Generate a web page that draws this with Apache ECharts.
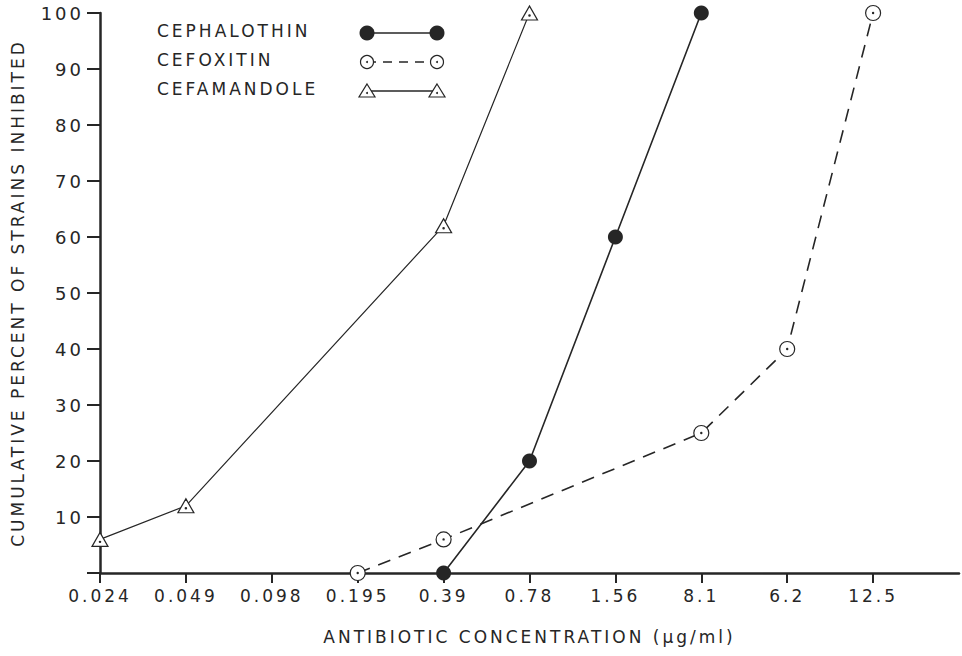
<!DOCTYPE html>
<html>
<head>
<meta charset="utf-8">
<script src="https://cdn.jsdelivr.net/npm/echarts@6/dist/echarts.min.js"></script>
<style>
  html, body { margin: 0; padding: 0; background: #fff; }
  #chart { width: 962px; height: 656px; overflow: hidden; }
  /* the printed lettering is widely spaced */
  #chart text { letter-spacing: 3px; }
</style>
</head>
<body>
<div id="chart"></div>
<script>
// concentration steps as printed on the x axis (last slot is the empty tail of the axis)
const concentrations = ['0.024', '0.049', '0.098', '0.195', '0.39', '0.78', '1.56', '8.1', '6.2', '12.5', ''];

// cumulative percent of strains inhibited, null where no point is drawn
const cephalothin = [null, null, null, null, 0, 20, 60, 100, null, null, null];
const cefoxitin   = [null, null, null, 0, 6, null, null, 25, 40, 100, null];
const cefamandole = [6, 12, null, null, 62, 100, null, null, null, null, null];

const yTicks = [0, 10, 20, 30, 40, 50, 60, 70, 80, 90, 100];

const ink = '#262626';
const font = 'DejaVu Sans';

// open circle with a dot, open triangle with a dot
const dotCircle = 'path://M0,10A10,10 0 1,1 20,10A10,10 0 1,1 0,10Z M9.2,10A0.8,0.8 0 1,1 10.8,10A0.8,0.8 0 1,1 9.2,10Z';
const dotTriangle = 'path://M10,0L20,17L0,17Z M9.2,11.5A0.8,0.8 0 1,1 10.8,11.5A0.8,0.8 0 1,1 9.2,11.5Z';

const chart = echarts.init(document.getElementById('chart'), null, { renderer: 'svg' });

// hand-drawn style legend: label on the left, sample line with two markers on the right
function legendRow(y, label, dashed, symbol) {
  const items = [
    { type: 'text', left: 157, top: y - 11,
      style: { text: label, font: '17px "' + font + '"', fill: ink } },
    { type: 'line', shape: { x1: 367, y1: y, x2: 437, y2: y },
      style: { stroke: ink, lineWidth: 1.4, lineDash: dashed ? [9, 7] : null } }
  ];
  [367, 437].forEach(x => {
    if (symbol === 'filled') {
      items.push({ type: 'circle', shape: { cx: x, cy: y, r: 7.5 }, style: { fill: ink } });
    } else if (symbol === 'circle') {
      items.push({ type: 'circle', shape: { cx: x, cy: y, r: 6.5 }, style: { fill: '#fff', stroke: ink, lineWidth: 1.2 } });
      items.push({ type: 'circle', shape: { cx: x, cy: y, r: 1 }, style: { fill: ink } });
    } else {
      items.push({ type: 'polygon', shape: { points: [[x, y - 7], [x + 8, y + 6], [x - 8, y + 6]] },
        style: { fill: '#fff', stroke: ink, lineWidth: 1.2 } });
      items.push({ type: 'circle', shape: { cx: x, cy: y + 2, r: 1 }, style: { fill: ink } });
    }
  });
  return items;
}

chart.setOption({
  animation: false,
  backgroundColor: '#fff',
  grid: { left: 100, right: -4, top: 13, bottom: 83 },
  xAxis: {
    type: 'category',
    data: concentrations,
    boundaryGap: false,
    name: 'ANTIBIOTIC CONCENTRATION (\u03bcg/ml)',
    nameLocation: 'middle',
    nameGap: 55,
    nameTextStyle: { fontFamily: font, fontSize: 17, color: ink },
    axisLine: { lineStyle: { color: ink, width: 2.5 } },
    axisTick: { length: 10, lineStyle: { color: ink, width: 2 }, interval: (i) => i < concentrations.length - 1 },
    axisLabel: { interval: 0, margin: 14, fontFamily: font, fontSize: 17, color: ink },
    splitLine: { show: false }
  },
  yAxis: {
    type: 'value',
    min: yTicks[0],
    max: yTicks[yTicks.length - 1],
    interval: 10,
    name: 'CUMULATIVE PERCENT OF STRAINS INHIBITED',
    nameLocation: 'middle',
    nameGap: 74,
    nameTextStyle: { fontFamily: font, fontSize: 17, color: ink },
    axisLine: { show: true, lineStyle: { color: ink, width: 2.5 } },
    axisTick: { show: true, length: 13, lineStyle: { color: ink, width: 2 } },
    axisLabel: { margin: 16, fontFamily: font, fontSize: 18, color: ink,
      formatter: v => (v === 0 ? '' : String(v)) },
    splitLine: { show: false }
  },
  series: [
    {
      name: 'CEPHALOTHIN', type: 'line', data: cephalothin, connectNulls: true,
      symbol: 'circle', symbolSize: 15,
      itemStyle: { color: ink },
      lineStyle: { color: ink, width: 1.6 },
      z: 3
    },
    {
      name: 'CEFOXITIN', type: 'line', data: cefoxitin, connectNulls: true,
      symbol: dotCircle, symbolSize: 15,
      itemStyle: { color: '#fff', borderColor: ink, borderWidth: 1.2 },
      lineStyle: { color: ink, width: 1.6, type: [13, 9] },
      z: 3
    },
    {
      name: 'CEFAMANDOLE', type: 'line', data: cefamandole, connectNulls: true,
      symbol: dotTriangle, symbolSize: [16, 14],
      itemStyle: { color: '#fff', borderColor: ink, borderWidth: 1.2 },
      lineStyle: { color: ink, width: 1.2 },
      z: 3
    }
  ],
  graphic: [].concat(
    legendRow(33, 'CEPHALOTHIN', false, 'filled'),
    legendRow(62, 'CEFOXITIN', true, 'circle'),
    legendRow(91, 'CEFAMANDOLE', false, 'triangle')
  )
});
</script>
</body>
</html>
